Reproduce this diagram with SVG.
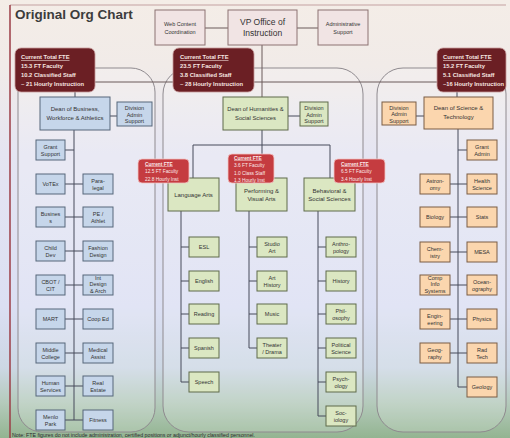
<svg xmlns="http://www.w3.org/2000/svg" width="510" height="438" viewBox="0 0 510 438">
<defs>
<linearGradient id="bg" x1="0" y1="0" x2="0" y2="1">
<stop offset="0" stop-color="#f4ede7"/>
<stop offset="0.15" stop-color="#f1ebe8"/>
<stop offset="0.35" stop-color="#e5e5f2"/>
<stop offset="0.7" stop-color="#dbdff3"/>
<stop offset="0.84" stop-color="#ccd7e4"/>
<stop offset="0.92" stop-color="#b4cabb"/>
<stop offset="1" stop-color="#93b491"/>
</linearGradient>
<style>
.top{fill:#f1e4e4;stroke:#8c7272;stroke-width:1}
.biz{fill:#c6d6ea;stroke:#56677a;stroke-width:1}
.hum{fill:#dbe7c2;stroke:#5f6b4a;stroke-width:1}
.sci{fill:#fbd6ae;stroke:#7a5d44;stroke-width:1}
.fte{fill:#6b1f24;stroke:#c79a9a;stroke-width:0.8}
.sfte{fill:#c53c40;stroke:#f2c4c4;stroke-width:0.8}
.cont{fill:#ffffff;fill-opacity:0.18;stroke:#8f8a8f;stroke-width:1}
.t{font-family:"Liberation Sans",Arial,sans-serif;font-size:5.5px;fill:#333;text-anchor:middle}
.tm{font-family:"Liberation Sans",Arial,sans-serif;font-size:6px;fill:#333;text-anchor:middle}
.ft{font-family:"Liberation Sans",Arial,sans-serif;font-size:5.8px;fill:#f6e6e0;font-weight:bold}
.sft{font-family:"Liberation Sans",Arial,sans-serif;font-size:4.8px;fill:#fbeaea}
.u{text-decoration:underline;font-weight:bold}
.conn{stroke:#474a5a;stroke-width:1;fill:none}
.tconn{stroke:#6a5a5a;stroke-width:1;fill:none}
</style>
</defs>
<rect x="0" y="0" width="510" height="438" fill="url(#bg)"/>
<line x1="10" y1="5" x2="506" y2="5" stroke="#c4a2a2" stroke-width="1.2"/>
<line x1="10" y1="5" x2="10" y2="438" stroke="#9b3d46" stroke-width="1.5"/>
<text x="15" y="19" font-family="'Liberation Sans',Arial,sans-serif" font-size="13.5" font-weight="bold" fill="#3c3c3c">Original Org Chart</text>

<g id="containers">
<rect class="cont" x="18" y="68" width="137" height="364" rx="24"/>
<rect class="cont" x="163" y="68" width="200" height="364" rx="26"/>
<rect class="cont" x="377" y="68" width="129" height="364" rx="26"/>
</g>

<g id="connectors">
<line class="tconn" x1="205" y1="28" x2="228" y2="28"/>
<line class="tconn" x1="297" y1="28" x2="318" y2="28"/>
<line class="tconn" x1="262" y1="45" x2="262" y2="97"/>
<line class="tconn" x1="95" y1="82" x2="437" y2="82"/>
<line class="conn" x1="75" y1="92" x2="75" y2="97"/>
<line class="conn" x1="457" y1="92" x2="457" y2="97"/>
<!-- business -->
<line class="conn" x1="110" y1="116" x2="117" y2="116"/>
<line class="conn" x1="74" y1="130" x2="74" y2="420"/>
<line class="conn" x1="65" y1="150" x2="74" y2="150"/>
<line class="conn" x1="65" y1="184" x2="83" y2="184"/>
<line class="conn" x1="65" y1="217" x2="83" y2="217"/>
<line class="conn" x1="65" y1="251" x2="83" y2="251"/>
<line class="conn" x1="65" y1="285" x2="83" y2="285"/>
<line class="conn" x1="65" y1="319" x2="83" y2="319"/>
<line class="conn" x1="65" y1="353" x2="83" y2="353"/>
<line class="conn" x1="65" y1="386" x2="83" y2="386"/>
<line class="conn" x1="65" y1="420" x2="83" y2="420"/>
<!-- humanities -->
<line class="conn" x1="288" y1="116" x2="300" y2="116"/>
<line class="conn" x1="262" y1="130" x2="262" y2="145"/>
<line class="conn" x1="193" y1="145" x2="330" y2="145"/>
<line class="conn" x1="193" y1="145" x2="193" y2="178"/>
<line class="conn" x1="262" y1="145" x2="262" y2="178"/>
<line class="conn" x1="330" y1="145" x2="330" y2="178"/>
<line class="conn" x1="181" y1="211" x2="181" y2="382"/>
<line class="conn" x1="181" y1="247" x2="189" y2="247"/>
<line class="conn" x1="181" y1="281" x2="189" y2="281"/>
<line class="conn" x1="181" y1="314" x2="189" y2="314"/>
<line class="conn" x1="181" y1="348" x2="189" y2="348"/>
<line class="conn" x1="181" y1="382" x2="189" y2="382"/>
<line class="conn" x1="249" y1="211" x2="249" y2="348"/>
<line class="conn" x1="249" y1="247" x2="257" y2="247"/>
<line class="conn" x1="249" y1="281" x2="257" y2="281"/>
<line class="conn" x1="249" y1="314" x2="257" y2="314"/>
<line class="conn" x1="249" y1="348" x2="257" y2="348"/>
<line class="conn" x1="318" y1="211" x2="318" y2="416"/>
<line class="conn" x1="318" y1="247" x2="326" y2="247"/>
<line class="conn" x1="318" y1="281" x2="326" y2="281"/>
<line class="conn" x1="318" y1="314" x2="326" y2="314"/>
<line class="conn" x1="318" y1="348" x2="326" y2="348"/>
<line class="conn" x1="318" y1="382" x2="326" y2="382"/>
<line class="conn" x1="318" y1="416" x2="326" y2="416"/>
<!-- science -->
<line class="conn" x1="416" y1="116" x2="424" y2="116"/>
<line class="conn" x1="458" y1="129" x2="458" y2="387"/>
<line class="conn" x1="458" y1="150" x2="467" y2="150"/>
<line class="conn" x1="450" y1="184" x2="467" y2="184"/>
<line class="conn" x1="450" y1="217" x2="467" y2="217"/>
<line class="conn" x1="450" y1="252" x2="467" y2="252"/>
<line class="conn" x1="450" y1="285" x2="467" y2="285"/>
<line class="conn" x1="450" y1="319" x2="467" y2="319"/>
<line class="conn" x1="450" y1="353" x2="467" y2="353"/>
<line class="conn" x1="458" y1="387" x2="467" y2="387"/>
</g>

<!-- top nodes -->
<g id="web-content"><rect class="top" x="155" y="10" width="50" height="35"/><text class="t" x="180" y="25.5">Web Content<tspan x="180" dy="8">Coordination</tspan></text></g>
<g id="vp-office"><rect class="top" x="228" y="10" width="69" height="35"/><text class="t" x="262.5" y="25" style="font-size:8.5px">VP Office of<tspan x="262.5" dy="11">Instruction</tspan></text></g>
<g id="admin-support"><rect class="top" x="318" y="10" width="50" height="35"/><text class="t" x="343" y="25.5">Administrative<tspan x="343" dy="8">Support</tspan></text></g>

<!-- FTE totals -->
<g id="fte-business"><rect class="fte" x="15" y="48" width="80" height="44" rx="6"/><text class="ft" x="21" y="59"><tspan class="u">Current Total FTE</tspan><tspan x="21" dy="9">15.3 FT Faculty</tspan><tspan x="21" dy="9">10.2 Classified Staff</tspan><tspan x="21" dy="9">~ 21 Hourly Instruction</tspan></text></g>
<g id="fte-humanities"><rect class="fte" x="173" y="48" width="81" height="44" rx="6"/><text class="ft" x="180" y="59"><tspan class="u">Current Total FTE</tspan><tspan x="180" dy="9">23.5 FT Faculty</tspan><tspan x="180" dy="9">3.8 Classified Staff</tspan><tspan x="180" dy="9">~ 28 Hourly Instruction</tspan></text></g>
<g id="fte-science"><rect class="fte" x="437" y="48" width="69" height="44" rx="6"/><text class="ft" x="443" y="59"><tspan class="u">Current Total FTE</tspan><tspan x="443" dy="9">15.2 FT Faculty</tspan><tspan x="443" dy="9">5.1 Classified Staff</tspan><tspan x="443" dy="9" textLength="61" lengthAdjust="spacingAndGlyphs">~16 Hourly Instruction</tspan></text></g>

<!-- Business -->
<g id="dean-business"><rect class="biz" x="40" y="97" width="70" height="33"/><text class="tm" x="75" y="111">Dean of Business,<tspan x="75" dy="9">Workforce &amp; Athletics</tspan></text></g>
<g id="admin-business"><rect class="biz" x="117" y="102" width="35" height="24"/><text class="t" x="134.5" y="110">Division<tspan x="134.5" dy="6.5">Admin</tspan><tspan x="134.5" dy="6.5">Support</tspan></text></g>
<g id="grant-support"><rect class="biz" x="36" y="140" width="29" height="20"/><text class="t" x="50.5" y="148.5">Grant<tspan x="50.5" dy="7">Support</tspan></text></g>
<g id="votex"><rect class="biz" x="36" y="174" width="29" height="20"/><text class="t" x="50.5" y="186">VoTEx</text></g>
<g id="paralegal"><rect class="biz" x="83" y="174" width="30" height="20"/><text class="t" x="98" y="182.5">Para-<tspan x="98" dy="7">legal</tspan></text></g>
<g id="business"><rect class="biz" x="36" y="207" width="29" height="20"/><text class="t" x="50.5" y="215.5">Busines<tspan x="50.5" dy="7">s</tspan></text></g>
<g id="pe-athlet"><rect class="biz" x="83" y="207" width="30" height="20"/><text class="t" x="98" y="215.5">PE /<tspan x="98" dy="7">Athlet</tspan></text></g>
<g id="child-dev"><rect class="biz" x="36" y="241" width="29" height="20"/><text class="t" x="50.5" y="249.5">Child<tspan x="50.5" dy="7">Dev</tspan></text></g>
<g id="fashion-design"><rect class="biz" x="83" y="241" width="30" height="20"/><text class="t" x="98" y="249.5">Fashion<tspan x="98" dy="7">Design</tspan></text></g>
<g id="cbot-cit"><rect class="biz" x="36" y="275" width="29" height="20"/><text class="t" x="50.5" y="283.5">CBOT /<tspan x="50.5" dy="7">CIT</tspan></text></g>
<g id="int-design"><rect class="biz" x="83" y="275" width="30" height="20"/><text class="t" x="98" y="279.5">Int<tspan x="98" dy="6.5">Design</tspan><tspan x="98" dy="6.5">&amp; Arch</tspan></text></g>
<g id="mart"><rect class="biz" x="36" y="309" width="29" height="20"/><text class="t" x="50.5" y="321">MART</text></g>
<g id="coop-ed"><rect class="biz" x="83" y="309" width="30" height="20"/><text class="t" x="98" y="321">Coop Ed</text></g>
<g id="middle-college"><rect class="biz" x="36" y="343" width="29" height="20"/><text class="t" x="50.5" y="351.5">Middle<tspan x="50.5" dy="7">College</tspan></text></g>
<g id="medical-assist"><rect class="biz" x="83" y="343" width="30" height="20"/><text class="t" x="98" y="351.5">Medical<tspan x="98" dy="7">Assist</tspan></text></g>
<g id="human-services"><rect class="biz" x="36" y="376" width="29" height="20"/><text class="t" x="50.5" y="384.5">Human<tspan x="50.5" dy="7">Services</tspan></text></g>
<g id="real-estate"><rect class="biz" x="83" y="376" width="30" height="20"/><text class="t" x="98" y="384.5">Real<tspan x="98" dy="7">Estate</tspan></text></g>
<g id="menlo-park"><rect class="biz" x="36" y="410" width="29" height="20"/><text class="t" x="50.5" y="418.5">Menlo<tspan x="50.5" dy="7">Park</tspan></text></g>
<g id="fitness"><rect class="biz" x="83" y="410" width="30" height="20"/><text class="t" x="98" y="422">Fitness</text></g>

<!-- Humanities -->
<g id="dean-humanities"><rect class="hum" x="223" y="97" width="65" height="33"/><text class="tm" x="255.5" y="111" style="font-size:5.8px">Dean of Humanities &amp;<tspan x="255.5" dy="9">Social Sciences</tspan></text></g>
<g id="admin-humanities"><rect class="hum" x="300" y="102" width="28" height="24"/><text class="t" x="314" y="110">Division<tspan x="314" dy="6.5">Admin</tspan><tspan x="314" dy="6.5">Support</tspan></text></g>
<g id="language-arts"><rect class="hum" x="168" y="178" width="51" height="33"/><text class="tm" x="193.5" y="196.5">Language Arts</text></g>
<g id="performing-arts"><rect class="hum" x="236" y="178" width="51" height="33"/><text class="tm" x="261.5" y="192.5">Performing &amp;<tspan x="261.5" dy="8.5">Visual Arts</tspan></text></g>
<g id="behavioral"><rect class="hum" x="304" y="178" width="51" height="33"/><text class="tm" x="329.5" y="192.5">Behavioral &amp;<tspan x="329.5" dy="8.5">Social Sciences</tspan></text></g>
<g id="fte-language"><rect class="sfte" x="138" y="159" width="51" height="24" rx="4"/><text class="sft" x="145" y="165.5"><tspan class="u">Current FTE</tspan><tspan x="145" dy="7.5">12.5 FT Faculty</tspan><tspan x="145" dy="7.5">22.8 Hourly Inst</tspan></text></g>
<g id="fte-performing"><rect class="sfte" x="228" y="154" width="46" height="29" rx="4"/><text class="sft" x="234" y="159.5"><tspan class="u">Current FTE</tspan><tspan x="234" dy="7.5">3.6 FT Faculty</tspan><tspan x="234" dy="7.5">1.0 Class Staff</tspan><tspan x="234" dy="7.5">1.3 Hourly Inst</tspan></text></g>
<g id="fte-behavioral"><rect class="sfte" x="334" y="159" width="51" height="24" rx="4"/><text class="sft" x="341" y="165.5"><tspan class="u">Current FTE</tspan><tspan x="341" dy="7.5">6.5 FT Faculty</tspan><tspan x="341" dy="7.5">3.4 Hourly Inst</tspan></text></g>
<g id="esl"><rect class="hum" x="189" y="237" width="30" height="20"/><text class="t" x="204" y="249">ESL</text></g>
<g id="english"><rect class="hum" x="189" y="271" width="30" height="20"/><text class="t" x="204" y="283">English</text></g>
<g id="reading"><rect class="hum" x="189" y="304" width="30" height="20"/><text class="t" x="204" y="316">Reading</text></g>
<g id="spanish"><rect class="hum" x="189" y="338" width="30" height="20"/><text class="t" x="204" y="350">Spanish</text></g>
<g id="speech"><rect class="hum" x="189" y="372" width="30" height="20"/><text class="t" x="204" y="384">Speech</text></g>
<g id="studio-art"><rect class="hum" x="257" y="237" width="30" height="20"/><text class="t" x="272" y="245.5">Studio<tspan x="272" dy="7">Art</tspan></text></g>
<g id="art-history"><rect class="hum" x="257" y="271" width="30" height="20"/><text class="t" x="272" y="279.5">Art<tspan x="272" dy="7">History</tspan></text></g>
<g id="music"><rect class="hum" x="257" y="304" width="30" height="20"/><text class="t" x="272" y="316">Music</text></g>
<g id="theater"><rect class="hum" x="257" y="338" width="30" height="20"/><text class="t" x="272" y="346.5">Theater<tspan x="272" dy="7">/ Drama</tspan></text></g>
<g id="anthropology"><rect class="hum" x="326" y="237" width="30" height="20"/><text class="t" x="341" y="245.5">Anthro-<tspan x="341" dy="7">pology</tspan></text></g>
<g id="history"><rect class="hum" x="326" y="271" width="30" height="20"/><text class="t" x="341" y="283">History</text></g>
<g id="philosophy"><rect class="hum" x="326" y="304" width="30" height="20"/><text class="t" x="341" y="312.5">Phil-<tspan x="341" dy="7">osophy</tspan></text></g>
<g id="political-science"><rect class="hum" x="326" y="338" width="30" height="20"/><text class="t" x="341" y="346.5">Political<tspan x="341" dy="7">Science</tspan></text></g>
<g id="psychology"><rect class="hum" x="326" y="372" width="30" height="20"/><text class="t" x="341" y="380.5">Psych-<tspan x="341" dy="7">ology</tspan></text></g>
<g id="sociology"><rect class="hum" x="326" y="406" width="30" height="20"/><text class="t" x="341" y="414.5">Soc-<tspan x="341" dy="7">iology</tspan></text></g>

<!-- Science -->
<g id="dean-science"><rect class="sci" x="424" y="97" width="69" height="32"/><text class="tm" x="458.5" y="110">Dean of Science &amp;<tspan x="458.5" dy="9">Technology</tspan></text></g>
<g id="admin-science"><rect class="sci" x="382" y="102" width="34" height="23"/><text class="t" x="399" y="109.5">Division<tspan x="399" dy="6.5">Admin</tspan><tspan x="399" dy="6.5">Support</tspan></text></g>
<g id="grant-admin"><rect class="sci" x="467" y="140" width="30" height="20"/><text class="t" x="482" y="148.5">Grant<tspan x="482" dy="7">Admin</tspan></text></g>
<g id="astronomy"><rect class="sci" x="420" y="174" width="30" height="20"/><text class="t" x="435" y="182.5">Astron-<tspan x="435" dy="7">omy</tspan></text></g>
<g id="health-science"><rect class="sci" x="467" y="174" width="30" height="20"/><text class="t" x="482" y="182.5">Health<tspan x="482" dy="7">Science</tspan></text></g>
<g id="biology"><rect class="sci" x="420" y="207" width="30" height="20"/><text class="t" x="435" y="219">Biology</text></g>
<g id="stats"><rect class="sci" x="467" y="207" width="30" height="20"/><text class="t" x="482" y="219">Stats</text></g>
<g id="chemistry"><rect class="sci" x="420" y="242" width="30" height="20"/><text class="t" x="435" y="250.5">Chem-<tspan x="435" dy="7">istry</tspan></text></g>
<g id="mesa"><rect class="sci" x="467" y="242" width="30" height="20"/><text class="t" x="482" y="254">MESA</text></g>
<g id="comp-info"><rect class="sci" x="420" y="275" width="30" height="20"/><text class="t" x="435" y="279.5">Comp<tspan x="435" dy="6.5">Info</tspan><tspan x="435" dy="6.5">Systems</tspan></text></g>
<g id="oceanography"><rect class="sci" x="467" y="275" width="30" height="20"/><text class="t" x="482" y="283.5">Ocean-<tspan x="482" dy="7">ography</tspan></text></g>
<g id="engineering"><rect class="sci" x="420" y="309" width="30" height="20"/><text class="t" x="435" y="317.5">Engin-<tspan x="435" dy="7">eering</tspan></text></g>
<g id="physics"><rect class="sci" x="467" y="309" width="30" height="20"/><text class="t" x="482" y="321">Physics</text></g>
<g id="geography"><rect class="sci" x="420" y="343" width="30" height="20"/><text class="t" x="435" y="351.5">Geog-<tspan x="435" dy="7">raphy</tspan></text></g>
<g id="rad-tech"><rect class="sci" x="467" y="343" width="30" height="20"/><text class="t" x="482" y="351.5">Rad<tspan x="482" dy="7">Tech</tspan></text></g>
<g id="geology"><rect class="sci" x="467" y="377" width="30" height="20"/><text class="t" x="482" y="389">Geology</text></g>

<text x="12" y="436.5" font-family="'Liberation Sans',Arial,sans-serif" font-size="5" fill="#2a2a2a" textLength="243" lengthAdjust="spacingAndGlyphs">Note: FTE figures do not include administration, certified positions or adjunct/hourly classified personnel.</text>
</svg>
